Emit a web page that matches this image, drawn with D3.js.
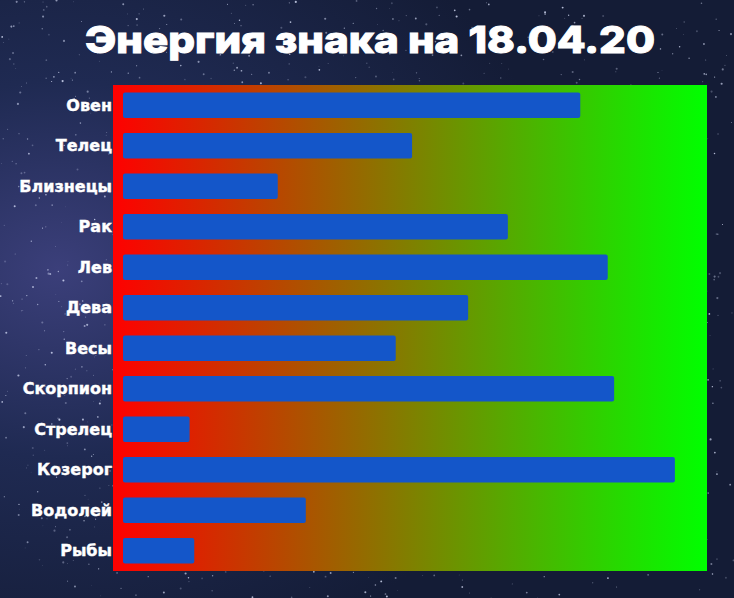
<!DOCTYPE html>
<html>
<head>
<meta charset="utf-8">
<script src="https://cdn.jsdelivr.net/npm/d3@7"></script>
<style>
  html, body { margin: 0; padding: 0; background: #16203c; }
  svg { display: block; }
</style>
</head>
<body>
<svg id="chart" width="734" height="598"></svg>
<script>
const titleText = "Энергия знака на 18.04.20";
const signs = ["Овен", "Телец", "Близнецы", "Рак", "Лев", "Дева", "Весы", "Скорпион", "Стрелец", "Козерог", "Водолей", "Рыбы"];
const energy = [78.3, 49.5, 26.5, 65.9, 83.0, 59.1, 46.7, 84.1, 11.4, 94.5, 31.3, 12.2];

const W = 734, H = 598;
const plot = { left: 113, right: 707, top: 85, bottom: 571 };
const svg = d3.select("#chart");
const defs = svg.append("defs");

// background: night sky
const sky = defs.append("radialGradient").attr("id", "sky")
  .attr("cx", "0.08").attr("cy", "0.45").attr("r", "0.7");
sky.append("stop").attr("offset", "0").attr("stop-color", "#3b3f7a");
sky.append("stop").attr("offset", "0.45").attr("stop-color", "#1f2a52");
sky.append("stop").attr("offset", "1").attr("stop-color", "#141c36");
svg.append("rect").attr("width", W).attr("height", H).attr("fill", "url(#sky)");

// decorative stars (seeded, deterministic)
let seed = 12345;
function rnd() { seed = (seed * 1103515245 + 12345) % 2147483648; return seed / 2147483648; }
const stars = d3.range(1400).map(() => ({ x: rnd() * W, y: rnd() * H, r: rnd() * 0.8 + 0.3, o: rnd() * 0.6 + 0.2 }));
svg.append("g").selectAll("circle").data(stars).join("circle")
  .attr("cx", d => d.x).attr("cy", d => d.y).attr("r", d => d.r)
  .attr("fill", "#dfe6ff").attr("opacity", d => d.o);

// plot gradient
const grad = defs.append("linearGradient").attr("id", "rg").attr("x1", "0").attr("x2", "1").attr("y1", "0").attr("y2", "0");
grad.append("stop").attr("offset", "0").attr("stop-color", "#ff0000");
grad.append("stop").attr("offset", "1").attr("stop-color", "#00ff00");
svg.append("rect")
  .attr("x", plot.left).attr("y", plot.top)
  .attr("width", plot.right - plot.left).attr("height", plot.bottom - plot.top)
  .attr("fill", "url(#rg)");

const x = d3.scaleLinear().domain([0, 100]).range([plot.left + 10, plot.right]);
const y = d3.scaleBand().domain(signs).range([plot.top, plot.bottom]).paddingInner(0.37).paddingOuter(0.185);

svg.append("g").selectAll("rect").data(signs).join("rect")
  .attr("x", x(0))
  .attr("y", d => y(d))
  .attr("width", (d, i) => x(energy[i]) - x(0))
  .attr("height", y.bandwidth())
  .attr("rx", 2)
  .attr("fill", "#1456c9");

// category labels
const yAxis = d3.axisLeft(y).tickSize(0).tickPadding(1);
const ag = svg.append("g").attr("transform", `translate(${plot.left},0)`).call(yAxis);
ag.select(".domain").remove();
ag.selectAll("text")
  .attr("fill", "#ffffff")
  .attr("stroke", "#ffffff")
  .attr("stroke-width", 0.4)
  .attr("font-family", "'DejaVu Sans', sans-serif")
  .attr("font-weight", "bold")
  .attr("font-size", 16)
  .attr("dy", "0.35em");

// title
svg.append("text")
  .attr("x", 370).attr("y", 53)
  .attr("text-anchor", "middle")
  .attr("fill", "#ffffff")
  .attr("stroke", "#ffffff")
  .attr("stroke-width", 1)
  .attr("font-family", "Inter, 'Open Sans', sans-serif")
  .attr("font-weight", 800)
  .attr("font-size", 37)
  .attr("textLength", 570)
  .attr("lengthAdjust", "spacingAndGlyphs")
  .text(titleText);
</script>
</body>
</html>
